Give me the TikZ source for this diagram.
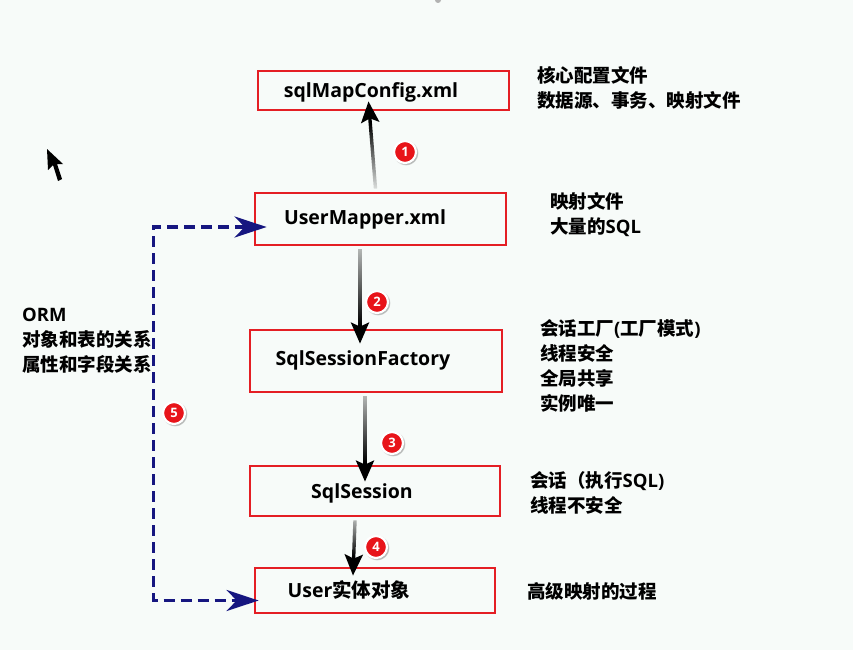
\documentclass[tikz,border=0pt]{standalone}
\usepackage{fontspec}
\setmainfont{Noto Sans CJK SC}
\newfontfamily\osf{Open Sans}
\usetikzlibrary{arrows.meta,fadings,shadows}
\definecolor{bg}{RGB}{247,251,249}
\definecolor{boxred}{RGB}{228,30,36}
\definecolor{numred}{RGB}{232,20,26}
\definecolor{navy}{RGB}{22,22,128}
\newcommand{\os}[1]{{\osf\bfseries #1}}
% overlays that lighten the tail of each flow arrow
\tikzfading[name=tailbottom, top color=transparent!100, bottom color=transparent!8]
\tikzfading[name=tailtop, top color=transparent!25, bottom color=transparent!100]
\begin{document}
\begin{tikzpicture}[x=1pt,y=-1pt,
  box/.style={draw=boxred, line width=2.8pt, fill=bg, inner sep=0pt,
    drop shadow={shadow xshift=1pt, shadow yshift=-1pt, opacity=0.4}},
  boxlabel/.style={font=\bfseries\fontsize{19.5}{22}\selectfont, inner sep=0pt},
  note/.style={font=\bfseries\fontsize{18.5}{25}\selectfont, align=left, anchor=west, inner sep=0pt},
  flow/.style={line width=3.4pt, black, -{Stealth[length=21pt,width=18pt,inset=4pt]}},
  orm/.style={navy, line width=3.5pt, dash pattern=on 11pt off 6pt,
    arrows={Stealth[length=32pt,width=21pt,inset=10pt]-Stealth[length=32pt,width=21pt,inset=10pt]}},
  num/.style={circle, fill=numred, draw=white, line width=2.2pt, minimum size=22pt, inner sep=0pt,
    text=white, font=\osf\bfseries\fontsize{13}{13}\selectfont,
    circular drop shadow={shadow scale=1.15, opacity=0.6, shadow xshift=0.8pt, shadow yshift=-0.8pt}}
]
\fill[bg] (0,0) rectangle (853,650);
\useasboundingbox (0,0) rectangle (853,650);
\fill[gray!60] (438,0) circle (3pt);

% boxes
\node[box, minimum width=251pt, minimum height=39pt] (cfg) at (383.5,90.5) {};
\node[box, minimum width=251pt, minimum height=52pt] (um) at (380.5,219) {};
\node[box, minimum width=252pt, minimum height=62pt] (sf) at (376,361) {};
\node[box, minimum width=250pt, minimum height=50pt] (ss) at (375,491) {};
\node[box, minimum width=240pt, minimum height=45pt] (ue) at (375,590.5) {};

% box labels
\node[boxlabel] (cfgt) at (371,92) {\os{sqlMapConfig.xml}};
\node[boxlabel] (umt) at (365,219) {\os{UserMapper.xml}};
\node[boxlabel] (sft) at (363,360) {\os{SqlSessionFactory}};
\node[boxlabel] (sst) at (362,493) {\os{SqlSession}};
\node[boxlabel] (uet) at (349,590) {\os{User}实体对象};

% notes
\node[note] (cfgn) at (537,88) {核心配置文件\\数据源、事务、映射文件};
\node[note] (umn) at (550,215) {映射文件\\大量的\os{SQL}};
\node[note] (sfn) at (540,366) {会话工厂\os{(}工厂模式\os{)}\\线程安全\\全局共享\\实例唯一};
\node[note] (ssn) at (530,493) {会话（执行\os{SQL)}\\线程不安全};
\node[note] (uen) at (527,591) {高级映射的过程};
\node[note] (ormn) at (22,341) {\os{ORM}\\对象和表的关系\\属性和字段关系};

% flow arrows
\draw[flow] ([xshift=-5pt,yshift=3pt]um.north) -- ([xshift=-15pt,yshift=10pt]cfg.south);
\draw[flow] ([xshift=-20.5pt,yshift=-3pt]um.south) -- ([xshift=-16pt,yshift=-15pt]sf.north);
\draw[flow] ([xshift=-11pt,yshift=-3pt]sf.south) -- ([xshift=-10pt,yshift=-17pt]ss.north);
\draw[flow] ([xshift=-20pt,yshift=-3pt]ss.south) -- ([xshift=-22pt,yshift=-9pt]ue.north);
% gradient on the shafts
\fill[bg, path fading=tailbottom] (362,123) rectangle (383,191);
\fill[bg, path fading=tailtop] (354,247) rectangle (366,325);
\fill[bg, path fading=tailtop] (358,394) rectangle (372,462);
\fill[bg, path fading=tailtop] (347,518) rectangle (361,556);

% ORM connector
\draw[orm] ([xshift=13pt,yshift=-8pt]um.west) -- ++(-113,0) |- ([xshift=5pt,yshift=-10pt]ue.west);

% numbers
\node[num] (n1) at (405,152) {1};
\node[num] (n2) at (377,302) {2};
\node[num] (n3) at (392,443) {3};
\node[num] (n4) at (376,547) {4};
\node[num] (n5) at (174,413) {5};

% mouse cursor
\fill[black] (47,149) -- (48,170) -- (53,165) -- (58,181) -- (62,179) -- (57,164) -- (63,164) -- cycle;
\end{tikzpicture}
\end{document}
